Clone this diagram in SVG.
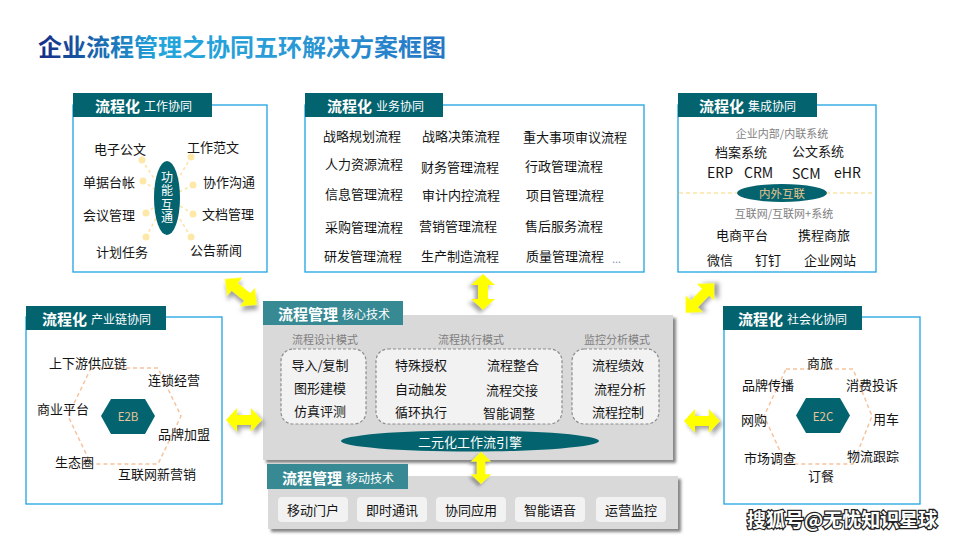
<svg xmlns="http://www.w3.org/2000/svg" width="960" height="540" viewBox="0 0 960 540">
<defs>
<linearGradient id="tg" x1="38" y1="0" x2="445" y2="0" gradientUnits="userSpaceOnUse">
<stop offset="0" stop-color="#152c84"/>
<stop offset="0.3" stop-color="#22a6dc"/>
<stop offset="0.6" stop-color="#2a9bd6"/>
<stop offset="1" stop-color="#2676c4"/>
</linearGradient>
<filter id="sh" x="-5%" y="-5%" width="112%" height="125%"><feDropShadow dx="3" dy="3" stdDeviation="1.5" flood-color="#6e6e6e" flood-opacity="0.85"/></filter>
<filter id="ash" x="-40%" y="-40%" width="180%" height="180%"><feDropShadow dx="3" dy="3" stdDeviation="2" flood-color="#888" flood-opacity="0.8"/></filter>
<path id="arr" d="M-18,0 L-7,-12 L-7,-5 L7,-5 L7,-12 L18,0 L7,12 L7,5 L-7,5 L-7,12 Z"/>
</defs>
<style>
text{font-family:"Noto Sans CJK SC","Noto Sans CJK JP","Microsoft YaHei",sans-serif;}
.t{font-size:13px;fill:#141414;dominant-baseline:central}
.tc{font-size:13px;fill:#141414;dominant-baseline:central;text-anchor:middle}
.g{font-size:11px;fill:#7f7f7f;dominant-baseline:central;text-anchor:middle}
.en{font-size:14px;fill:#141414;dominant-baseline:central}
.hb{font-size:15px;font-weight:bold;fill:#fff}
.hs{font-size:12px;fill:#fff}
.hd{dominant-baseline:central}
.box{fill:#fff;stroke:#1ea4e0;stroke-width:1.3}
.tab{fill:#03636e}
.tab2{fill:#378a93}
.panel{fill:#d9d9d9;filter:url(#sh)}
.dash{fill:#f2f2f2;stroke:#8c8c8c;stroke-width:1.2;stroke-dasharray:3 2}
.btn{fill:#f2f2f2}
.dk{fill:#03636e}
.hex{fill:none;stroke:#f5c4a0;stroke-width:1.5;stroke-dasharray:4 3}
.ray{stroke:#fbe3a4;stroke-width:1.5;stroke-dasharray:3 3}
.dot{fill:#fde8a8}
.arw{fill:#ffff00;filter:url(#ash)}
</style>

<rect width="960" height="540" fill="#fff"/>

<text x="38" y="45" font-size="24" font-weight="bold" fill="url(#tg)" dominant-baseline="central">企业流程管理之协同五环解决方案框图</text>

<!-- Work collaboration -->
<g id="work">
<rect class="box" x="73" y="105" width="194" height="167"/>
<rect class="tab" x="73" y="93" width="139" height="24"/>
<text class="hd" x="95" y="105"><tspan class="hb">流程化</tspan><tspan class="hs" dx="4">工作协同</tspan></text>
<line class="ray" x1="142" y1="160" x2="167" y2="198"/>
<line class="ray" x1="143" y1="181" x2="167" y2="198"/>
<line class="ray" x1="146" y1="213" x2="167" y2="198"/>
<line class="ray" x1="146" y1="237" x2="167" y2="198"/>
<line class="ray" x1="191" y1="157" x2="167" y2="198"/>
<line class="ray" x1="193" y1="185" x2="167" y2="198"/>
<line class="ray" x1="193" y1="214" x2="167" y2="198"/>
<line class="ray" x1="191" y1="237" x2="167" y2="198"/>
<ellipse class="dk" cx="167" cy="198" rx="13" ry="37"/>
<text x="167" y="198" font-size="12" fill="#fff" writing-mode="vertical-rl" text-anchor="middle" letter-spacing="1.3">功能互通</text>
<circle class="dot" cx="142" cy="160" r="3.5"/>
<circle class="dot" cx="143" cy="181" r="3.5"/>
<circle class="dot" cx="146" cy="213" r="3.5"/>
<circle class="dot" cx="146" cy="237" r="3.5"/>
<circle class="dot" cx="191" cy="157" r="3.5"/>
<circle class="dot" cx="193" cy="185" r="3.5"/>
<circle class="dot" cx="193" cy="214" r="3.5"/>
<circle class="dot" cx="191" cy="237" r="3.5"/>
<text class="t" x="94" y="148">电子公文</text>
<text class="t" x="83" y="181">单据台帐</text>
<text class="t" x="83" y="214">会议管理</text>
<text class="t" x="96" y="251">计划任务</text>
<text class="t" x="187" y="146">工作范文</text>
<text class="t" x="203" y="181">协作沟通</text>
<text class="t" x="202" y="213">文档管理</text>
<text class="t" x="190" y="249">公告新闻</text>
</g>

<!-- Business collaboration -->
<g id="business">
<rect class="box" x="305" y="105" width="339" height="167"/>
<rect class="tab" x="305" y="93" width="138" height="24"/>
<text class="hd" x="327" y="105"><tspan class="hb">流程化</tspan><tspan class="hs" dx="4">业务协同</tspan></text>
<text class="t" x="323" y="135">战略规划流程</text>
<text class="t" x="422" y="135">战略决策流程</text>
<text class="t" x="523" y="136">重大事项审议流程</text>
<text class="t" x="325" y="163">人力资源流程</text>
<text class="t" x="421" y="166">财务管理流程</text>
<text class="t" x="525" y="165">行政管理流程</text>
<text class="t" x="325" y="193">信息管理流程</text>
<text class="t" x="422" y="194">审计内控流程</text>
<text class="t" x="526" y="194">项目管理流程</text>
<text class="t" x="325" y="226">采购管理流程</text>
<text class="t" x="419" y="225">营销管理流程</text>
<text class="t" x="525" y="225">售后服务流程</text>
<text class="t" x="324" y="255">研发管理流程</text>
<text class="t" x="421" y="255">生产制造流程</text>
<text class="t" x="526" y="255">质量管理流程</text>
<text x="612" y="258" font-size="11" fill="#8a9ab4" dominant-baseline="central">...</text>
</g>

<!-- Integration collaboration -->
<g id="integration">
<rect class="box" x="678" y="105" width="198" height="167"/>
<rect class="tab" x="678" y="93" width="139" height="24"/>
<text class="hd" x="699" y="105"><tspan class="hb">流程化</tspan><tspan class="hs" dx="4">集成协同</tspan></text>
<text class="g" x="782" y="133">企业内部/内联系统</text>
<text class="t" x="715" y="151">档案系统</text>
<text class="t" x="792" y="150">公文系统</text>
<text class="en" x="707" y="172">ERP</text>
<text class="en" x="744" y="172">CRM</text>
<text class="en" x="792" y="173">SCM</text>
<text class="en" x="834" y="172">eHR</text>
<line x1="679" y1="193" x2="875" y2="193" stroke="#fbe3a4" stroke-width="1.5" stroke-dasharray="4 3"/>
<ellipse class="dk" cx="782" cy="193" rx="45" ry="9"/>
<text x="782" y="193" font-size="11.5" fill="#e8c48c" text-anchor="middle" dominant-baseline="central">内外互联</text>
<text class="g" x="784" y="213">互联网/互联网+系统</text>
<text class="t" x="716" y="234">电商平台</text>
<text class="t" x="798" y="234">携程商旅</text>
<text class="t" x="707" y="259">微信</text>
<text class="t" x="755" y="259">钉钉</text>
<text class="t" x="804" y="259">企业网站</text>
</g>

<!-- Supply chain collaboration -->
<g id="supply">
<rect class="box" x="26" y="317" width="196" height="187"/>
<rect class="tab" x="26" y="306" width="140" height="24"/>
<text class="hd" x="42" y="318"><tspan class="hb">流程化</tspan><tspan class="hs" dx="4">产业链协同</tspan></text>
<polygon class="hex" points="91,368 158,368 181,416 158,464 91,464 68,416"/>
<polygon class="dk" points="111,399 145,399 155,416 145,434 111,434 101,416"/>
<text x="128" y="416" font-size="11.5" fill="#e8c49a" text-anchor="middle" dominant-baseline="central">E2B</text>
<text class="t" x="49" y="362">上下游供应链</text>
<text class="t" x="148" y="379">连锁经营</text>
<text class="t" x="37" y="408">商业平台</text>
<text class="t" x="158" y="433">品牌加盟</text>
<text class="t" x="55" y="461">生态圈</text>
<text class="t" x="118" y="473">互联网新营销</text>
</g>

<!-- Social collaboration -->
<g id="social">
<rect class="box" x="724" y="317" width="196" height="187"/>
<rect class="tab" x="723" y="306" width="139" height="24"/>
<text class="hd" x="738" y="318"><tspan class="hb">流程化</tspan><tspan class="hs" dx="4">社会化协同</tspan></text>
<polygon class="hex" points="786,369 853,369 872,416 853,464 786,464 764,416"/>
<polygon class="dk" points="806,398 840,398 850,415.5 840,433 806,433 796,415.5"/>
<text x="823" y="415.5" font-size="11.5" fill="#e8c49a" text-anchor="middle" dominant-baseline="central">E2C</text>
<text class="tc" x="820" y="362">商旅</text>
<text class="t" x="742" y="384">品牌传播</text>
<text class="t" x="846" y="384">消费投诉</text>
<text class="t" x="741" y="419">网购</text>
<text class="t" x="873" y="418">用车</text>
<text class="t" x="744" y="457">市场调查</text>
<text class="t" x="847" y="455">物流跟踪</text>
<text class="tc" x="821" y="475">订餐</text>
</g>

<!-- Core technology -->
<g id="core">
<rect class="panel" x="263" y="315" width="410" height="145"/>
<rect class="tab2" x="263" y="301" width="140" height="24"/>
<text class="hd" x="278" y="313"><tspan class="hb">流程管理</tspan><tspan class="hs" dx="4">核心技术</tspan></text>
<text class="g" x="325" y="339">流程设计模式</text>
<text class="g" x="471" y="339">流程执行模式</text>
<text class="g" x="617" y="339">监控分析模式</text>
<rect class="dash" x="281" y="349" width="85" height="75" rx="12"/>
<rect class="dash" x="376" y="349" width="186" height="75" rx="12"/>
<rect class="dash" x="572" y="349" width="87" height="75" rx="12"/>
<text class="tc" x="320" y="364">导入/复制</text>
<text class="tc" x="320" y="387">图形建模</text>
<text class="tc" x="320" y="410">仿真评测</text>
<text class="tc" x="421" y="364">特殊授权</text>
<text class="tc" x="513" y="364">流程整合</text>
<text class="tc" x="421" y="388">自动触发</text>
<text class="tc" x="512" y="389">流程交接</text>
<text class="tc" x="421" y="411">循环执行</text>
<text class="tc" x="509" y="412">智能调整</text>
<text class="tc" x="618" y="364">流程绩效</text>
<text class="tc" x="620" y="388">流程分析</text>
<text class="tc" x="618" y="411">流程控制</text>
<ellipse class="dk" cx="470" cy="441" rx="129" ry="10.5"/>
<text x="470" y="441" font-size="13" fill="#fff" text-anchor="middle" dominant-baseline="central">二元化工作流引擎</text>
</g>

<!-- Mobile technology -->
<g id="mobile">
<rect class="panel" x="268" y="476" width="410" height="53"/>
<rect class="tab2" x="267" y="464" width="141" height="25"/>
<text class="hd" x="282" y="476.5"><tspan class="hb">流程管理</tspan><tspan class="hs" dx="4">移动技术</tspan></text>
<rect class="btn" x="278" y="497" width="70" height="25" rx="4"/>
<rect class="btn" x="357" y="497" width="70" height="25" rx="4"/>
<rect class="btn" x="436" y="497" width="70" height="25" rx="4"/>
<rect class="btn" x="515" y="497" width="70" height="25" rx="4"/>
<rect class="btn" x="596" y="497" width="70" height="25" rx="4"/>
<text class="tc" x="313" y="509">移动门户</text>
<text class="tc" x="392" y="509">即时通讯</text>
<text class="tc" x="471" y="509">协同应用</text>
<text class="tc" x="550" y="509">智能语音</text>
<text class="tc" x="631" y="509">运营监控</text>
</g>

<!-- Connectors -->
<g id="connectors">
<use href="#arr" class="arw" transform="translate(241,292) rotate(39) scale(1.15,1)"/>
<use href="#arr" class="arw" transform="translate(483,292) rotate(90)"/>
<use href="#arr" class="arw" transform="translate(700,298) rotate(-46) scale(1.15,1)"/>
<use href="#arr" class="arw" transform="translate(244,420)"/>
<use href="#arr" class="arw" transform="translate(702,421)"/>
<use href="#arr" class="arw" transform="translate(481,468) rotate(90) scale(0.9,0.85)"/>
</g>

<text x="747" y="518" font-size="19" font-weight="bold" fill="#fff" stroke="#222" stroke-width="2.5" paint-order="stroke" dominant-baseline="central">搜狐号@无忧知识星球</text>
</svg>
